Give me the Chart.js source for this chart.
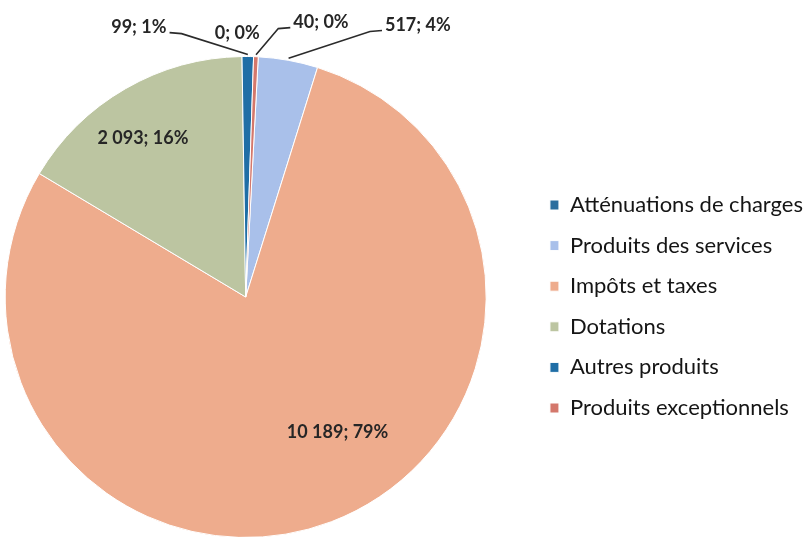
<!DOCTYPE html>
<html>
<head>
<meta charset="utf-8">
<script src="https://cdn.jsdelivr.net/npm/chart.js@4/dist/chart.umd.min.js"></script>
<style>
  html, body { margin: 0; padding: 0; background: #fff; overflow: hidden; width: 804px; height: 537px; }
  #wrap { position: absolute; left: -40px; top: 0; width: 853px; height: 600px; }
</style>
</head>
<body>
<div id="wrap"><canvas id="pieChart" width="853" height="600"></canvas></div>
<script>
// Data
const categories = ['Atténuations de charges', 'Produits des services', 'Impôts et taxes', 'Dotations', 'Autres produits', 'Produits exceptionnels'];
const amounts = [0, 517, 10189, 2093, 99, 40];
const sliceColors = ['#2c6e9e', '#a9c0ea', '#eeac8d', '#bcc5a1', '#1f6ea6', '#d4786c'];

// where each value label sits, relative to the pie centre (in radius units)
const labelOffsets = [[-0.035, -1.095], [0.716, -1.129], [0.382, 0.564], [-0.427, -0.66], [-0.444, -1.12], [0.313, -1.141]];

const total = amounts.reduce((a, b) => a + b, 0);

function formatNumber(v) {
    return String(v).replace(/\B(?=(\d{3})+(?!\d))/g, ' ');
}

// Draws the "value; percent" labels and leader lines
const sliceLabels = {
    id: 'sliceLabels',
    afterDatasetsDraw(chart) {
        const ctx = chart.ctx;
        const arcs = chart.getDatasetMeta(0).data;
        ctx.save();
        ctx.font = 'bold 18px Lato';
        ctx.fillStyle = '#262626';
        ctx.strokeStyle = '#2b2b2b';
        ctx.lineWidth = 1.6;
        ctx.textAlign = 'center';
        ctx.textBaseline = 'middle';
        arcs.forEach((arc, i) => {
            const p = arc.getProps(['x', 'y', 'outerRadius', 'startAngle', 'endAngle'], true);
            const text = formatNumber(amounts[i]) + '; ' + Math.round(amounts[i] / total * 100) + '%';
            const tx = p.x + labelOffsets[i][0] * p.outerRadius;
            const ty = p.y + labelOffsets[i][1] * p.outerRadius;
            if (labelOffsets[i][1] < -1 && amounts[i] > 0) {
                const mid = (p.startAngle + p.endAngle) / 2;
                const ex = p.x + Math.cos(mid) * (p.outerRadius + 2);
                const ey = p.y + Math.sin(mid) * (p.outerRadius + 2);
                const w = ctx.measureText(text).width;
                const side = tx < ex ? 1 : -1;
                const sx = tx + side * (w / 2 + 3);
                const sy = ty + 5;
                ctx.beginPath();
                ctx.moveTo(sx, sy);
                ctx.lineTo(sx + side * 12, sy + 1);
                ctx.lineTo(ex, ey);
                ctx.stroke();
            }
            ctx.fillText(text, tx, ty);
        });
        ctx.restore();
    }
};

new Chart(document.getElementById('pieChart').getContext('2d'), {
    type: 'pie',
    data: {
        labels: categories,
        datasets: [{
            data: amounts,
            backgroundColor: sliceColors,
            borderColor: '#ffffff',
            borderWidth: 1
        }]
    },
    options: {
        responsive: false,
        animation: false,
        devicePixelRatio: 1,
        rotation: 3,
        layout: { padding: { top: 56, bottom: 62, left: 0, right: 0 } },
        plugins: {
            tooltip: { enabled: false },
            legend: {
                position: 'right',
                title: { display: true, text: '', padding: { top: 2.3, bottom: 2.3 } },
                labels: {
                    boxWidth: 9,
                    boxHeight: 10,
                    padding: 18.6,
                    color: '#151515',
                    font: { family: 'Lato', size: 22 }
                }
            }
        }
    },
    plugins: [sliceLabels]
});
</script>
</body>
</html>
